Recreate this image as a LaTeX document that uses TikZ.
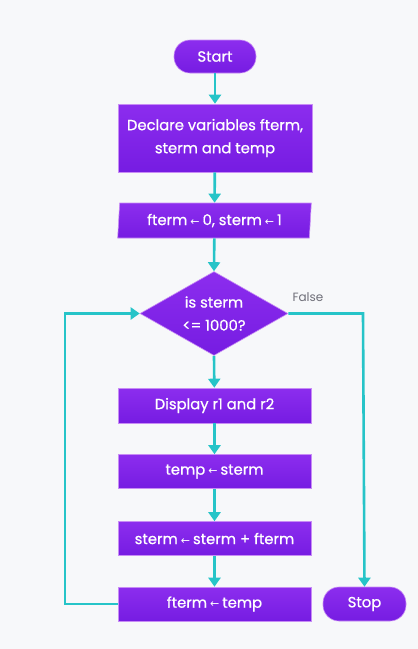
\documentclass[tikz,border=0pt]{standalone}
\usepackage{fontspec}
\setmainfont{Poppins}
\newfontfamily\boxf{Poppins}[FakeBold=0.7]
\newfontfamily\symf{DejaVu Sans}
\usetikzlibrary{shapes.geometric,arrows.meta}
\definecolor{bgc}{RGB}{247,248,250}
\definecolor{ptop}{RGB}{140,45,238}
\definecolor{pbot}{RGB}{118,28,226}
\definecolor{pedge}{RGB}{200,140,245}
\definecolor{teal}{RGB}{38,196,200}
\definecolor{lbl}{RGB}{110,110,120}
\newcommand{\la}{\hspace{3pt}{\symf\fontsize{11}{11}\selectfont ←}\hspace{3pt}}
\tikzset{
  box/.style={rectangle, top color=ptop, bottom color=pbot, draw=pedge, line width=0.6pt,
    text=white, font=\boxf\fontsize{14.8}{23}\selectfont, align=center, inner sep=0pt},
  pill/.style={box, rounded corners=16pt, minimum height=33pt},
  flow/.style={draw=teal, line width=2.6pt, -{Triangle[length=9pt,width=12pt]}},
  flowline/.style={draw=teal, line width=2.6pt}
}
\begin{document}
\begin{tikzpicture}[x=1pt,y=-1pt]
\fill[bgc] (0,0) rectangle (418,649);
\useasboundingbox (0,0) rectangle (418,649);
\node[pill, minimum width=82pt] (start) at (215,56.5) {Start};
\node[box, minimum width=194pt, minimum height=68pt] (decl) at (215,138) {Declare variables fterm,\\sterm and temp};
\node[box, trapezium, trapezium left angle=84, trapezium right angle=96, trapezium stretches=true,
  minimum width=194pt, minimum height=35pt] (init) at (214.5,220.5) {fterm\la 0, sterm\la 1};
\node[box, diamond, inner sep=-9pt, minimum width=148pt, minimum height=84pt, align=center] (cond) at (214,313.5) {is sterm\\<= 1000?};
\node[box, minimum width=193pt, minimum height=35pt] (disp) at (214.5,405.5) {Display r1 and r2};
\node[box, minimum width=193pt, minimum height=34pt] (temp) at (214.5,471.5) {temp\la sterm};
\node[box, minimum width=193pt, minimum height=34pt] (sterm) at (214.5,538.5) {sterm\la sterm + fterm};
\node[box, minimum width=193pt, minimum height=34pt] (fterm) at (214.5,604) {fterm\la temp};
\node[pill, minimum width=83pt, minimum height=34pt] (stop) at (364.5,604) {Stop};
\coordinate (lb) at (65,604);
\coordinate (lt) at (65,313.5);
\coordinate (rt) at (363,313.5);
\draw[flow] (start) -- (decl);
\draw[flow] (decl) -- (init);
\draw[flow] (init) -- (cond.north);
\draw[flow] (cond.south) -- (disp);
\draw[flow] (disp) -- (temp);
\draw[flow] (temp) -- (sterm);
\draw[flow] (sterm) -- (fterm);
\draw[flow] (fterm.west) -- (lb) -- (lt) -- (cond.west);
\draw[flow] (cond.east) -- (rt) -- (stop.north);
\node[text=lbl, font=\fontsize{12}{12}\selectfont, anchor=south west] (false) at (289,305) {False};
\end{tikzpicture}
\end{document}
